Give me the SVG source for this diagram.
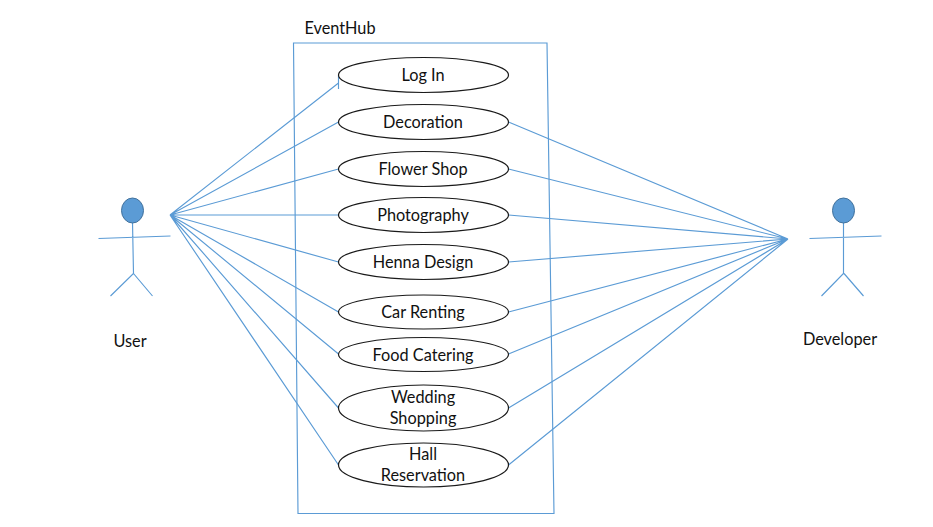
<svg xmlns="http://www.w3.org/2000/svg" width="933" height="527" viewBox="0 0 933 527">
<style>
.c{fill:none;stroke:#5b9bd5;stroke-width:1.15}
.u{fill:#fff;stroke:#1a1a1a;stroke-width:1.2}
.h{fill:#5b9bd5;stroke:#41719c;stroke-width:1}
text{font-family:"Lato","Open Sans","Liberation Sans",sans-serif;font-size:16.3px;fill:#111;text-anchor:middle}
</style>
<rect width="933" height="527" fill="#fff"/>
<g id="system"><path class="c" d="M293.500 43H547L554 513.500H298Z"/><text x="340" y="34">EventHub</text></g>
<g id="connectors">
<path class="c" d="M170 215L338.500 83M338.500 75V89M170 215L338.500 122M170 215L338.500 169M170 215L338.500 215M170 215L338.500 262M170 215L338.500 312M170 215L338.500 354M170 215L338.500 408M170 215L338.500 465"/>
<path class="c" d="M788 239L508.500 122M788 239L508.500 169M788 239L508.500 215M788 239L508.500 262M788 239L508.500 312M788 239L508.500 354M788 239L508.500 408M788 239L508.500 465"/>
</g>
<g id="actor-user"><path class="c" d="M98.500 238.500L170.500 236M132.500 222L133.500 273.500L110.500 296M133.500 273.500L152.500 296"/><ellipse class="h" cx="132.500" cy="210.500" rx="11" ry="12.500"/><text x="130" y="347">User</text></g>
<g id="actor-developer"><path class="c" d="M809.500 238.500L881.500 236M843.500 222V273.500L821.500 296M844 273.500L863.500 296"/><ellipse class="h" cx="843.500" cy="210.500" rx="11" ry="12.500"/><text x="840" y="345">Developer</text></g>
<g id="uc-login"><ellipse class="u" cx="423.500" cy="75" rx="85" ry="17.500"/><text x="423" y="81">Log In</text></g>
<g id="uc-decoration"><ellipse class="u" cx="423.500" cy="122" rx="85" ry="17.500"/><text x="423" y="128">Decoration</text></g>
<g id="uc-flower"><ellipse class="u" cx="423.500" cy="169" rx="85" ry="17.500"/><text x="423" y="175">Flower Shop</text></g>
<g id="uc-photography"><ellipse class="u" cx="423.500" cy="215" rx="85" ry="17.500"/><text x="423" y="221">Photography</text></g>
<g id="uc-henna"><ellipse class="u" cx="423.500" cy="262" rx="85" ry="17.500"/><text x="423" y="268">Henna Design</text></g>
<g id="uc-car"><ellipse class="u" cx="423.500" cy="312" rx="85" ry="17"/><text x="423" y="318">Car Renting</text></g>
<g id="uc-food"><ellipse class="u" cx="423.500" cy="354.500" rx="85" ry="17"/><text x="423" y="361">Food Catering</text></g>
<g id="uc-wedding"><ellipse class="u" cx="423.500" cy="408" rx="85" ry="23"/><text x="423" y="403">Wedding</text><text x="423" y="424">Shopping</text></g>
<g id="uc-hall"><ellipse class="u" cx="423.500" cy="465" rx="85" ry="22"/><text x="423" y="460">Hall</text><text x="423" y="481">Reservation</text></g>
</svg>
